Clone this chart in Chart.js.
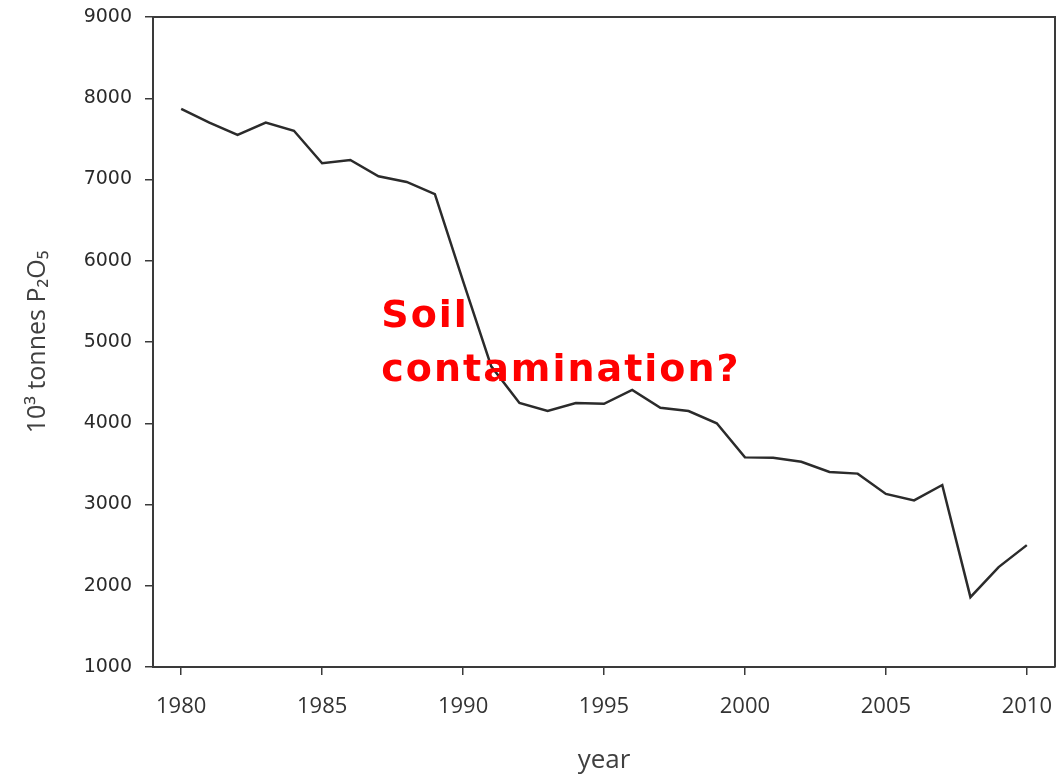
<!DOCTYPE html>
<html>
<head>
<meta charset="utf-8">
<script src="https://cdn.jsdelivr.net/npm/chart.js@4"></script>
<style>
    html, body { margin: 0; padding: 0; background: #fff; }
    #wrap { width: 1057px; height: 777px; }
</style>
</head>
<body>
<div id="wrap"><canvas id="chart"></canvas></div>
<script>
    // P2O5 consumption, 10^3 tonnes, per year
    var years = [1980, 1981, 1982, 1983, 1984, 1985, 1986, 1987, 1988, 1989,
                 1990, 1991, 1992, 1993, 1994, 1995, 1996, 1997, 1998, 1999,
                 2000, 2001, 2002, 2003, 2004, 2005, 2006, 2007, 2008, 2009, 2010];
    var tonnes = [7870, 7700, 7550, 7700, 7600, 7200, 7240, 7040, 6970, 6820,
                  5750, 4700, 4250, 4150, 4250, 4240, 4410, 4190, 4150, 4000,
                  3580, 3575, 3525, 3400, 3380, 3130, 3050, 3240, 1860, 2230, 2500];
    var xTicks = [1980, 1985, 1990, 1995, 2000, 2005, 2010];
    var note = ['Soil', 'contamination?'];

    // drop the label overhang so the plot box sits where layout padding says
    function noOverhang(scale) {
        scale.paddingLeft = 0;
        scale.paddingRight = 0;
        scale.paddingTop = 0;
        scale.paddingBottom = 0;
    }

    // draws top + right edges of the frame and the red note
    var extras = {
        id: 'extras',
        afterDraw: function (chart) {
            const { ctx, chartArea, scales } = chart;
            ctx.save();
            ctx.strokeStyle = '#3a3a3a';
            ctx.lineWidth = 2;
            ctx.beginPath();
            ctx.moveTo(chartArea.left, chartArea.top);
            ctx.lineTo(chartArea.right, chartArea.top);
            ctx.lineTo(chartArea.right, chartArea.bottom);
            ctx.stroke();

            ctx.fillStyle = '#ff0000';
            ctx.font = 'bold 38px "DejaVu Sans"';
            ctx.letterSpacing = '2px';
            ctx.textBaseline = 'alphabetic';
            var x = scales.x.getPixelForValue(1987.1);
            ctx.fillText(note[0], x, scales.y.getPixelForValue(5185));
            ctx.fillText(note[1], x, scales.y.getPixelForValue(4520));
            ctx.restore();
        }
    };

    var ctx = document.getElementById('chart').getContext('2d');
    var chart = new Chart(ctx, {
        type: 'line',
        data: {
            datasets: [{
                label: 'P2O5',
                data: years.map((y, i) => ({ x: y, y: tonnes[i] })),
                borderColor: '#2b2b2b',
                borderWidth: 2.5,
                radius: 0,
                tension: 0,
                fill: false
            }]
        },
        options: {
            responsive: true,
            maintainAspectRatio: false,
            animation: false,
            layout: { padding: { top: 17, right: 2, bottom: 0, left: 0 } },
            scales: {
                x: {
                    type: 'linear',
                    min: 1979,
                    max: 2011,
                    afterBuildTicks: function (scale) {
                        scale.ticks = xTicks.map(v => ({ value: v }));
                    },
                    afterFit: function (scale) {
                        scale.height = 110;
                        noOverhang(scale);
                    },
                    grid: {
                        drawOnChartArea: false,
                        tickLength: 8,
                        color: '#3a3a3a',
                        lineWidth: 1.5
                    },
                    border: { color: '#3a3a3a', width: 2 },
                    ticks: {
                        padding: 19,
                        maxRotation: 0,
                        color: '#333',
                        font: { family: '"Open Sans"', size: 22 },
                        callback: v => String(v)
                    },
                    title: {
                        display: true,
                        text: 'year',
                        color: '#404040',
                        font: { family: '"Open Sans"', size: 26 },
                        padding: { top: 0, bottom: 1 }
                    }
                },
                y: {
                    min: 1000,
                    max: 9000,
                    afterFit: function (scale) {
                        scale.width = 153;
                        noOverhang(scale);
                    },
                    grid: {
                        drawOnChartArea: false,
                        tickLength: 8,
                        color: '#3a3a3a',
                        lineWidth: 1.5
                    },
                    border: { color: '#3a3a3a', width: 2 },
                    ticks: {
                        stepSize: 1000,
                        padding: 13,
                        color: '#2a2a2a',
                        font: { family: '"DejaVu Sans"', size: 19 },
                        callback: v => String(v)
                    },
                    title: {
                        display: true,
                        text: '10³ tonnes P₂O₅',
                        color: '#404040',
                        font: { family: '"Open Sans"', size: 25 },
                        padding: { top: 23, bottom: 0 }
                    }
                }
            },
            plugins: {
                legend: { display: false },
                tooltip: { enabled: false }
            }
        },
        plugins: [extras]
    });
</script>
</body>
</html>
